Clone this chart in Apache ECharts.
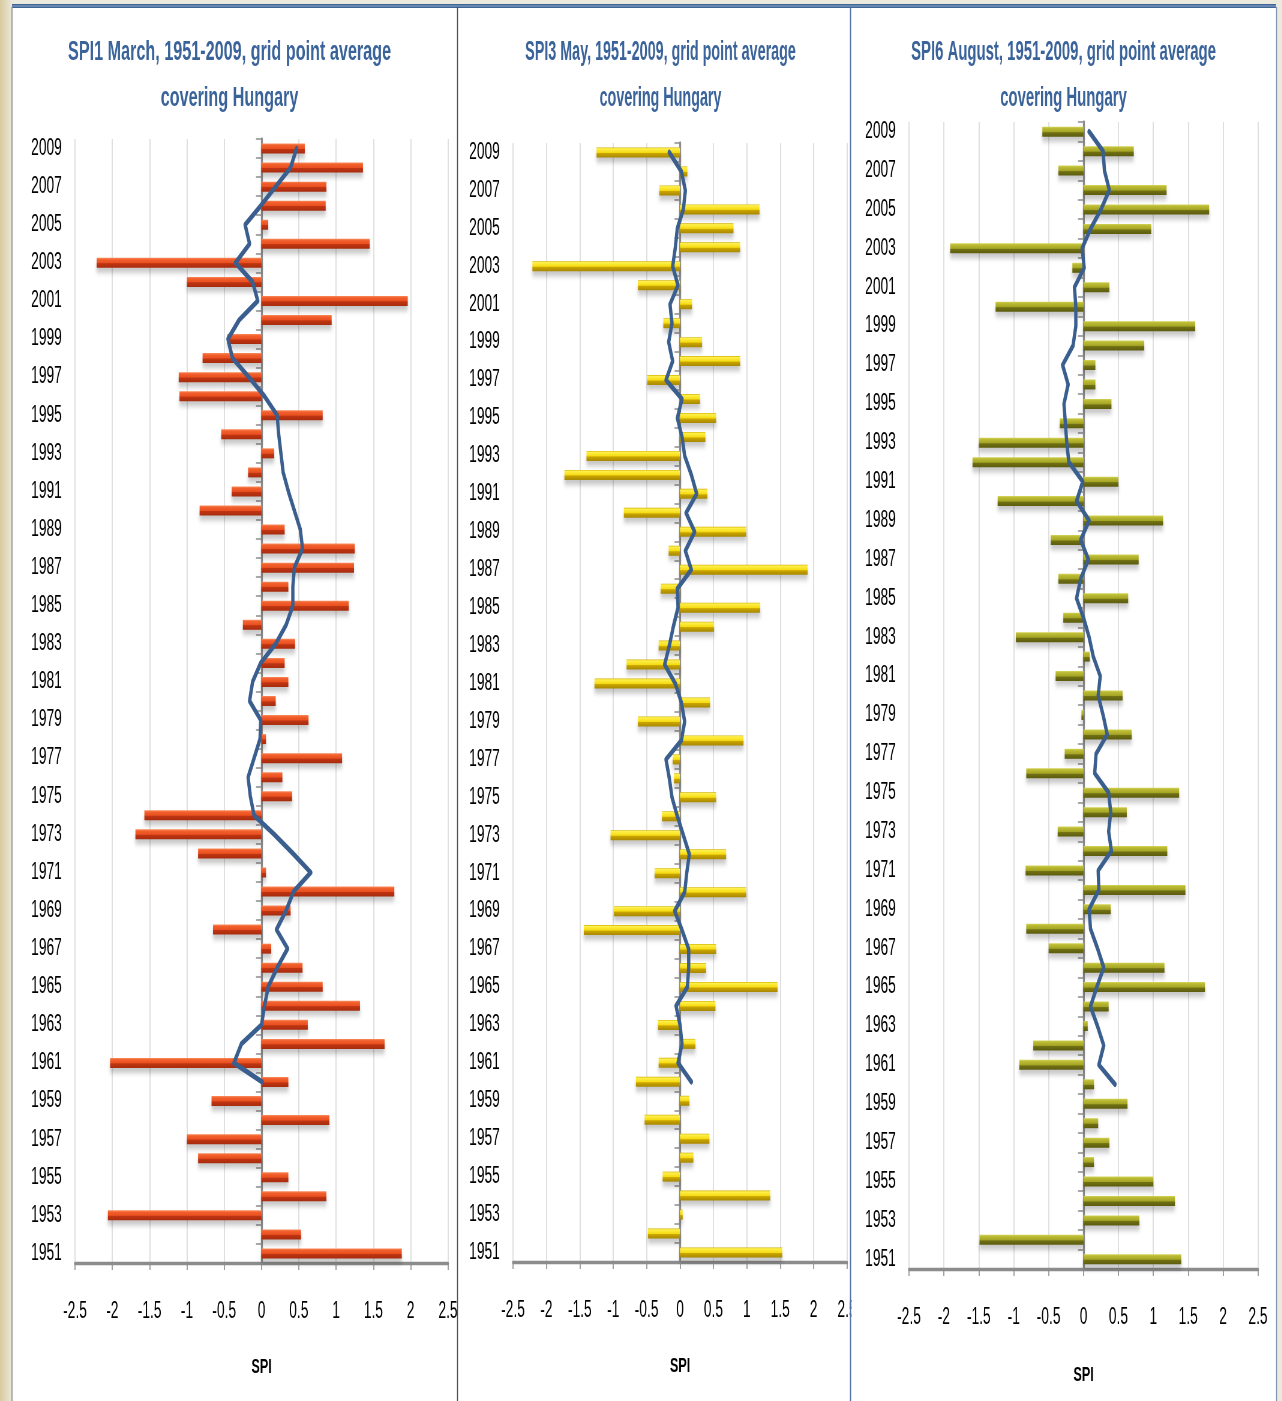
<!DOCTYPE html>
<html>
<head>
<meta charset="utf-8">
<title>SPI, 1951-2009, grid point average covering Hungary</title>
<script src="https://cdn.jsdelivr.net/npm/echarts@6/dist/echarts.min.js"></script>
<style>
  html, body { margin: 0; padding: 0; width: 1282px; height: 1401px; overflow: hidden; background: #ECE9DE; }
  /* the drawing is laid out wide and compressed horizontally, like the narrow typeface of the sheet */
  #chart { width: 2137px; height: 1401px; transform: scaleX(0.6); transform-origin: 0 0; }
</style>
</head>
<body>
<div id="chart"></div>
<script>
// ---- data ---------------------------------------------------------------
const years = ['1951','1952','1953','1954','1955','1956','1957','1958','1959','1960',
  '1961','1962','1963','1964','1965','1966','1967','1968','1969','1970',
  '1971','1972','1973','1974','1975','1976','1977','1978','1979','1980',
  '1981','1982','1983','1984','1985','1986','1987','1988','1989','1990',
  '1991','1992','1993','1994','1995','1996','1997','1998','1999','2000',
  '2001','2002','2003','2004','2005','2006','2007','2008','2009'];

// SPI1, March
const spi1Values = [1.88, 0.53, -2.06, 0.87, 0.36, -0.85, -1.00, 0.91, -0.67, 0.36,
  -2.03, 1.65, 0.62, 1.32, 0.82, 0.55, 0.13, -0.65, 0.39, 1.78,
  0.06, -0.85, -1.69, -1.57, 0.41, 0.28, 1.08, 0.06, 0.63, 0.19,
  0.36, 0.31, 0.45, -0.25, 1.17, 0.36, 1.24, 1.25, 0.31, -0.83,
  -0.40, -0.18, 0.17, -0.54, 0.82, -1.10, -1.11, -0.79, -0.46, 0.94,
  1.96, -1.00, -2.21, 1.45, 0.09, 0.86, 0.87, 1.36, 0.58];
const spi1Trend = [null, null, null, null, null, null, null, null, null, 0.01,
  -0.37, -0.27, 0.00, 0.04, 0.09, 0.21, 0.35, 0.20, 0.33, 0.43,
  0.66, 0.42, 0.17, -0.10, -0.15, -0.18, -0.10, -0.02, -0.01, -0.16,
  -0.12, -0.01, 0.19, 0.33, 0.42, 0.42, 0.44, 0.55, 0.52, 0.44,
  0.36, 0.29, 0.26, 0.23, 0.21, 0.04, -0.17, -0.39, -0.45, -0.30,
  -0.05, -0.12, -0.35, -0.16, -0.22, -0.01, 0.19, 0.39, 0.47];

// SPI3, May
const spi3Values = [1.53, -0.48, 0.04, 1.35, -0.26, 0.20, 0.44, -0.53, 0.14, -0.66,
  -0.32, 0.23, -0.33, 0.53, 1.46, 0.39, 0.54, -1.44, -0.99, 0.99,
  -0.38, 0.69, -1.04, -0.27, 0.54, -0.09, -0.11, 0.95, -0.63, 0.45,
  -1.28, -0.80, -0.32, 0.51, 1.20, -0.29, 1.91, -0.17, 0.99, -0.84,
  0.41, -1.73, -1.40, 0.38, 0.54, 0.30, -0.49, 0.90, 0.33, -0.25,
  0.18, -0.63, -2.21, 0.90, 0.80, 1.19, -0.31, 0.11, -1.25];
const spi3Trend = [null, null, null, null, null, null, null, null, null, 0.17,
  -0.03, 0.03, 0.00, -0.06, 0.11, 0.13, 0.13, 0.03, -0.08, 0.07,
  0.10, 0.14, 0.05, -0.04, -0.12, -0.16, -0.21, 0.02, 0.07, 0.02,
  -0.07, -0.23, -0.16, -0.10, -0.03, -0.04, 0.17, 0.08, 0.22, 0.09,
  0.25, 0.17, 0.07, 0.03, -0.04, 0.03, -0.21, -0.11, -0.17, -0.12,
  -0.15, -0.03, -0.11, -0.07, -0.04, 0.05, 0.08, 0.02, -0.16];

// SPI6, August
const spi6Values = [1.40, -1.49, 0.80, 1.31, 1.00, 0.15, 0.37, 0.21, 0.63, 0.15,
  -0.92, -0.72, 0.06, 0.36, 1.74, 1.16, -0.50, -0.82, 0.39, 1.46,
  -0.83, 1.20, -0.37, 0.62, 1.37, -0.82, -0.27, 0.69, -0.03, 0.56,
  -0.40, 0.09, -0.97, -0.29, 0.64, -0.36, 0.79, -0.47, 1.14, -1.23,
  0.50, -1.59, -1.50, -0.34, 0.40, 0.17, 0.17, 0.87, 1.60, -1.26,
  0.37, -0.16, -1.91, 0.97, 1.80, 1.19, -0.36, 0.72, -0.59];
const spi6Trend = [null, null, null, null, null, null, null, null, null, 0.45,
  0.22, 0.29, 0.20, 0.10, 0.19, 0.29, 0.20, 0.10, 0.08, 0.22,
  0.21, 0.40, 0.36, 0.39, 0.36, 0.16, 0.18, 0.34, 0.28, 0.21,
  0.24, 0.14, 0.08, 0.00, -0.10, -0.04, 0.07, -0.04, 0.08, -0.10,
  -0.01, -0.21, -0.24, -0.26, -0.28, -0.22, -0.30, -0.15, -0.11, -0.11,
  -0.13, 0.01, -0.02, 0.10, 0.25, 0.37, 0.30, 0.28, 0.08];

const titles = [
  'SPI1 March, 1951-2009, grid point average',
  'SPI3 May, 1951-2009, grid point average',
  'SPI6 August, 1951-2009, grid point average'
];
const subtitle = 'covering Hungary';
const axisTitle = 'SPI';

// ---- layout -------------------------------------------------------------
const SX = 0.6;                 // horizontal compression applied by CSS
const ux = x => x / SX;         // page x -> drawing x

const FONT = "'Liberation Sans', Arial, sans-serif";
const TITLE_COLOR = '#3A639A';
const TREND_COLOR = '#3A5E8E';

const panels = [
  { values: spi1Values, trend: spi1Trend, left: 75,  right: 448,  top: 139, bottom: 1263, cx: 229.5, titleSqueeze: 1.0,
    stops: [[0, '#FA8C5C'], [0.18, '#F2602E'], [0.5, '#EA5020'], [0.58, '#BF3512'], [1, '#A82C0E']] },
  { values: spi3Values, trend: spi3Trend, left: 513, right: 847,  top: 143, bottom: 1262, cx: 660.5, titleSqueeze: 0.885,
    stops: [[0, '#D2B000'], [0.12, '#FFF04D'], [0.5, '#F6DC12'], [0.6, '#C9A400'], [1, '#A88800']] },
  { values: spi6Values, trend: spi6Trend, left: 909, right: 1258, top: 122, bottom: 1269, cx: 1063.5, titleSqueeze: 0.92,
    stops: [[0, '#D6D65A'], [0.15, '#BCBC36'], [0.5, '#A6A626'], [0.6, '#707014'], [1, '#5C5C0E']] }
];

const grid = [], xAxis = [], yAxis = [], series = [], graphic = [];

// page frame
graphic.push(
  { type: 'rect', z: -20, shape: { x: 0, y: 0, width: ux(12), height: 1401 },
    style: { fill: { type: 'linear', x: 0, y: 0, x2: 1, y2: 0,
      colorStops: [{ offset: 0, color: '#D8CBA0' }, { offset: 1, color: '#ECE8DA' }] } } },
  { type: 'rect', z: -20, shape: { x: ux(12), y: 7, width: ux(1276 - 12), height: 1401 - 7 },
    style: { fill: '#FFFFFF' } },
  { type: 'rect', z: 120, shape: { x: ux(12), y: 4, width: ux(1276 - 12), height: 4 },
    style: { fill: '#3F6496' } },
  { type: 'rect', z: 121, shape: { x: ux(12), y: 5.5, width: ux(1276 - 12), height: 1 },
    style: { fill: '#8FA8CC' } },
  { type: 'rect', z: 110, shape: { x: ux(458.5), y: 1290, width: ux(40), height: 45 }, style: { fill: '#FFFFFF' } },
  { type: 'rect', z: 110, shape: { x: ux(851.5), y: 1290, width: ux(40), height: 45 }, style: { fill: '#FFFFFF' } },
  { type: 'line', z: 120, shape: { x1: ux(12), y1: 7, x2: ux(12), y2: 1401 }, style: { stroke: '#8A8A8A', lineWidth: ux(1) } },
  { type: 'line', z: 120, shape: { x1: ux(457.5), y1: 7, x2: ux(457.5), y2: 1401 }, style: { stroke: '#4A4A4A', lineWidth: ux(1) } },
  { type: 'line', z: 120, shape: { x1: ux(850.5), y1: 7, x2: ux(850.5), y2: 1401 }, style: { stroke: '#4F6F9F', lineWidth: ux(1.2) } },
  { type: 'line', z: 120, shape: { x1: ux(1276.5), y1: 7, x2: ux(1276.5), y2: 1401 }, style: { stroke: '#7F93B3', lineWidth: ux(1) } }
);

panels.forEach((p, i) => {
  grid.push({
    left: ux(p.left), width: ux(p.right - p.left), top: p.top, height: p.bottom - p.top,
    containLabel: false, outerBoundsMode: 'none'
  });

  xAxis.push({
    type: 'value', gridIndex: i, min: -2.5, max: 2.5, interval: 0.5,
    name: axisTitle, nameLocation: 'middle', nameGap: i === 2 ? 96 : 94,
    nameTextStyle: { fontFamily: FONT, fontWeight: 'bold', fontSize: 21, color: '#000000' },
    axisLine: { show: true, onZero: false, lineStyle: { color: '#8C8C8C', width: 3.3 } },
    axisTick: { show: true, length: 7, lineStyle: { color: '#8C8C8C', width: ux(1) } },
    axisLabel: { show: true, margin: 37, fontFamily: FONT, fontSize: 23, color: '#000000',
      hideOverlap: false, showMinLabel: true, showMaxLabel: true },
    splitLine: { show: true, lineStyle: { color: '#D9D9D9', width: ux(1) } }
  });

  // year labels at the left edge of the plot
  yAxis.push({
    type: 'category', gridIndex: i, data: years, position: 'left', boundaryGap: true,
    axisLine: { show: false, onZero: false },
    axisTick: { show: false },
    axisLabel: { show: true, interval: 1, margin: 22, fontFamily: FONT, fontSize: 23, color: '#000000', hideOverlap: false },
    splitLine: { show: false }
  });
  // zero line with category ticks
  yAxis.push({
    type: 'category', gridIndex: i, data: years, position: 'left', boundaryGap: true,
    axisLine: { show: true, onZero: true, onZeroAxisIndex: i, lineStyle: { color: '#8C8C8C', width: ux(2) } },
    axisTick: { show: true, interval: 0, length: ux(5.5), lineStyle: { color: '#8C8C8C', width: 1.5 } },
    axisLabel: { show: false },
    splitLine: { show: false }
  });

  series.push({
    type: 'bar', xAxisIndex: i, yAxisIndex: 2 * i, data: p.values, barWidth: 10,
    itemStyle: {
      color: { type: 'linear', x: 0, y: 0, x2: 0, y2: 1,
        colorStops: p.stops.map(s => ({ offset: s[0], color: s[1] })) },
      shadowColor: 'rgba(0,0,0,0.22)', shadowBlur: 5, shadowOffsetY: 5, shadowOffsetX: 0
    },
    emphasis: { disabled: true }, z: 2
  });
  series.push({
    type: 'line', xAxisIndex: i, yAxisIndex: 2 * i, data: p.trend, connectNulls: false,
    symbol: 'none', smooth: false,
    lineStyle: { color: TREND_COLOR, width: 5.5, cap: 'round', join: 'round' },
    emphasis: { disabled: true }, z: 5
  });

  graphic.push(
    { type: 'text', z: 130, x: ux(p.cx), y: 53, scaleX: p.titleSqueeze,
      style: { text: titles[i], fill: TITLE_COLOR, font: 'bold 27px ' + FONT, align: 'center', verticalAlign: 'middle' } },
    { type: 'text', z: 130, x: ux(p.cx), y: 99, scaleX: p.titleSqueeze,
      style: { text: subtitle, fill: TITLE_COLOR, font: 'bold 27px ' + FONT, align: 'center', verticalAlign: 'middle' } }
  );
});

const chart = echarts.init(document.getElementById('chart'), null, { renderer: 'canvas', devicePixelRatio: 1 });
chart.setOption({
  animation: false,
  backgroundColor: 'transparent',
  grid, xAxis, yAxis, series, graphic,
  tooltip: { show: false }
});
</script>
</body>
</html>
